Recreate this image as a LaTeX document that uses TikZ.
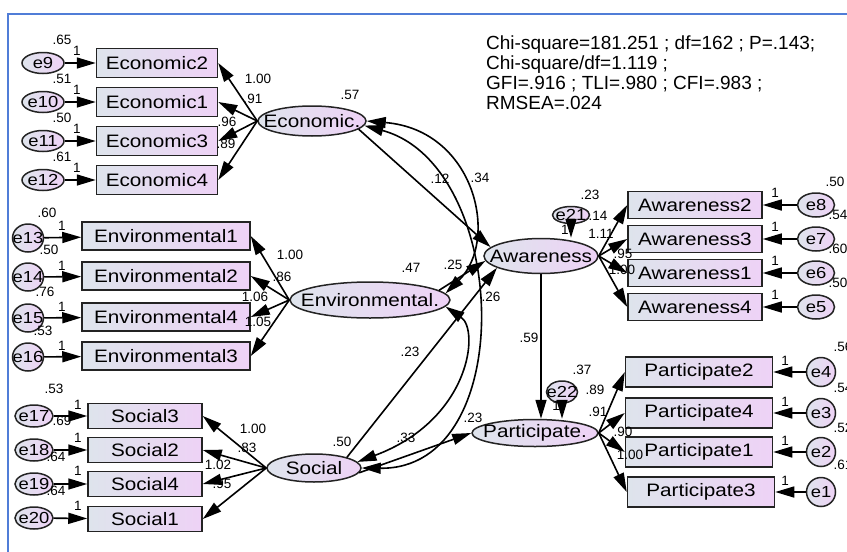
\documentclass[tikz,border=0pt]{standalone}
\usepackage{fontspec}
\setmainfont{Liberation Sans}
\newfontfamily\amosfont{Liberation Sans}[FakeStretch=1.15]
\usetikzlibrary{arrows.meta, shapes.geometric}
\definecolor{frameBlue}{RGB}{80,125,215}
\definecolor{fillLeft}{RGB}{222,228,236}
\definecolor{fillRight}{RGB}{238,210,246}
\definecolor{edgeGray}{RGB}{35,35,35}
\newcommand{\fitlbl}[1]{\makebox[0pt]{#1}}

\begin{document}
\begin{tikzpicture}[x=1pt, y=-1pt,
    obs/.style={draw=edgeGray, line width=1.5pt, left color=fillLeft, right color=fillRight, inner sep=0pt, font=\amosfont\fontsize{18}{20}\selectfont},
    latent/.style={ellipse, draw=edgeGray, line width=1.5pt, left color=fillLeft, right color=fillRight, inner sep=0pt, font=\amosfont\fontsize{18}{20}\selectfont},
    err/.style={latent, font=\amosfont\fontsize{16}{18}\selectfont},
    val/.style={inner sep=0pt, font=\fontsize{13.5}{14}\selectfont},
    reg/.style={line width=1.6pt, -{Triangle[length=19pt, width=11pt]}},
    cov/.style={line width=1.6pt, {Triangle[length=19pt, width=11pt]}-{Triangle[length=19pt, width=11pt]}}]
  \useasboundingbox (0,0) rectangle (847,552);
  % Frame
  \draw[frameBlue, line width=2pt] (8,552) -- (8,14) -- (847,14);

  % Fit statistics
  \node[anchor=north west, align=left, inner sep=0pt, font=\fontsize{19}{20}\selectfont] (fit) at (486,36) {
    Chi-square=181.251 ; df=162 ; P=.143;\\
    Chi-square/df=1.119 ;\\
    GFI=.916 ; TLI=.980 ; CFI=.983 ;\\
    RMSEA=.024};

  % Economic block
  \node[obs, minimum width=121pt, minimum height=29pt] (eco2) at (157,63) {Economic2};
  \node[obs, minimum width=121pt, minimum height=29pt] (eco1) at (157,102) {Economic1};
  \node[obs, minimum width=121pt, minimum height=29pt] (eco3) at (157,141) {Economic3};
  \node[obs, minimum width=121pt, minimum height=29pt] (eco4) at (157,180) {Economic4};
  \node[err, minimum width=42pt, minimum height=21pt] (e9) at (43,63) {\fitlbl{e9}};
  \node[err, minimum width=42pt, minimum height=21pt] (e10) at (43,102) {\fitlbl{e10}};
  \node[err, minimum width=42pt, minimum height=21pt] (e11) at (43,141) {\fitlbl{e11}};
  \node[err, minimum width=42pt, minimum height=21pt] (e12) at (43,180) {\fitlbl{e12}};
  \node[latent, minimum width=108pt, minimum height=30pt] (economic) at (312,121) {\fitlbl{Economic.}};

  % Environmental block
  \node[obs, minimum width=168pt, minimum height=28pt] (env1) at (166,236) {Environmental1};
  \node[obs, minimum width=168pt, minimum height=28pt] (env2) at (166,276) {Environmental2};
  \node[obs, minimum width=168pt, minimum height=28pt] (env4) at (166,317) {Environmental4};
  \node[obs, minimum width=168pt, minimum height=28pt] (env3) at (166,356) {Environmental3};
  \node[err, minimum width=31pt, minimum height=28pt] (e13) at (28,238) {\fitlbl{e13}};
  \node[err, minimum width=31pt, minimum height=28pt] (e14) at (28,277) {\fitlbl{e14}};
  \node[err, minimum width=31pt, minimum height=28pt] (e15) at (28,318) {\fitlbl{e15}};
  \node[err, minimum width=31pt, minimum height=28pt] (e16) at (28,357) {\fitlbl{e16}};
  \node[latent, minimum width=160pt, minimum height=36pt] (environmental) at (370,300) {\fitlbl{Environmental.}};

  % Social block
  \node[obs, minimum width=114pt, minimum height=25pt] (soc3) at (145,416) {Social3};
  \node[obs, minimum width=114pt, minimum height=25pt] (soc2) at (145,450) {Social2};
  \node[obs, minimum width=114pt, minimum height=25pt] (soc4) at (145,484) {Social4};
  \node[obs, minimum width=114pt, minimum height=25pt] (soc1) at (145,519) {Social1};
  \node[err, minimum width=38pt, minimum height=22pt] (e17) at (34,416) {\fitlbl{e17}};
  \node[err, minimum width=38pt, minimum height=22pt] (e18) at (34,450) {\fitlbl{e18}};
  \node[err, minimum width=38pt, minimum height=22pt] (e19) at (34,484) {\fitlbl{e19}};
  \node[err, minimum width=38pt, minimum height=22pt] (e20) at (34,518) {\fitlbl{e20}};
  \node[latent, minimum width=94pt, minimum height=28pt] (social) at (314,468) {\fitlbl{Social}};

  % Awareness block
  \node[obs, minimum width=134pt, minimum height=27pt] (aw2) at (695,205) {Awareness2};
  \node[obs, minimum width=134pt, minimum height=27pt] (aw3) at (695,239) {Awareness3};
  \node[obs, minimum width=134pt, minimum height=27pt] (aw1) at (695,273) {Awareness1};
  \node[obs, minimum width=134pt, minimum height=27pt] (aw4) at (695,307) {Awareness4};
  \node[err, minimum width=37pt, minimum height=24pt] (e8) at (816,205) {\fitlbl{e8}};
  \node[err, minimum width=37pt, minimum height=24pt] (e7) at (816,239) {\fitlbl{e7}};
  \node[err, minimum width=37pt, minimum height=24pt] (e6) at (816,273) {\fitlbl{e6}};
  \node[err, minimum width=37pt, minimum height=24pt] (e5) at (816,307) {\fitlbl{e5}};
  \node[latent, minimum width=114pt, minimum height=35pt] (awareness) at (541,256) {\fitlbl{Awareness}};
  \node[err, minimum width=37pt, minimum height=17pt] (e21) at (571,215) {\fitlbl{e21}};

  % Participate block
  \node[obs, minimum width=147pt, minimum height=30pt] (part2) at (699,372) {Participate2};
  \node[obs, minimum width=147pt, minimum height=30pt] (part4) at (699,413) {Participate4};
  \node[obs, minimum width=147pt, minimum height=30pt] (part1) at (699,452) {Participate1};
  \node[obs, minimum width=147pt, minimum height=30pt] (part3) at (701,492) {Participate3};
  \node[err, minimum width=29pt, minimum height=29pt] (e4) at (821,372) {\fitlbl{e4}};
  \node[err, minimum width=29pt, minimum height=29pt] (e3) at (821,413) {\fitlbl{e3}};
  \node[err, minimum width=29pt, minimum height=29pt] (e2) at (821,452) {\fitlbl{e2}};
  \node[err, minimum width=29pt, minimum height=29pt] (e1) at (821,492) {\fitlbl{e1}};
  \node[latent, minimum width=126pt, minimum height=27pt] (participate) at (535,433) {\fitlbl{Participate.}};
  \node[err, minimum width=31pt, minimum height=22pt] (e22) at (562,392) {\fitlbl{e22}};

  % Error terms
  \draw[reg] (e9) -- (eco2);
  \draw[reg] (e10) -- (eco1);
  \draw[reg] (e11) -- (eco3);
  \draw[reg] (e12) -- (eco4);
  \draw[reg] (e13) -- (env1);
  \draw[reg] (e14) -- (env2);
  \draw[reg] (e15) -- (env4);
  \draw[reg] (e16) -- (env3);
  \draw[reg] (e17) -- (soc3);
  \draw[reg] (e18) -- (soc2);
  \draw[reg] (e19) -- (soc4);
  \draw[reg] (e20) -- (soc1);
  \draw[reg] (e8) -- (aw2);
  \draw[reg] (e7) -- (aw3);
  \draw[reg] (e6) -- (aw1);
  \draw[reg] (e5) -- (aw4);
  \draw[reg] (e4) -- (part2);
  \draw[reg] (e3) -- (part4);
  \draw[reg] (e2) -- (part1);
  \draw[reg] (e1) -- (part3);
  \draw[reg] (e21.south) -- (e21.south |- awareness.north);
  \draw[reg] (e22.south) -- (e22.south |- participate.north);

  % Loadings
  \draw[reg] (economic.west) -- (eco2.east);
  \draw[reg] (economic.west) -- (eco1.east);
  \draw[reg] (economic.west) -- (eco3.east);
  \draw[reg] (economic.west) -- (eco4.east);
  \draw[reg] (environmental.west) -- (env1.east);
  \draw[reg] (environmental.west) -- (env2.east);
  \draw[reg] (environmental.west) -- (env4.east);
  \draw[reg] (environmental.west) -- (env3.east);
  \draw[reg] (social.west) -- (soc3.east);
  \draw[reg] (social.west) -- (soc2.east);
  \draw[reg] (social.west) -- (soc4.east);
  \draw[reg] (social.west) -- (soc1.east);
  \draw[reg] (awareness.east) -- (aw2.west);
  \draw[reg] (awareness.east) -- (aw3.west);
  \draw[reg] (awareness.east) -- (aw1.west);
  \draw[reg] (awareness.east) -- (aw4.west);
  \draw[reg] (participate.east) -- (part2.west);
  \draw[reg] (participate.east) -- (part4.west);
  \draw[reg] (participate.east) -- (part1.west);
  \draw[reg] (participate.east) -- (part3.west);

  % Structural paths
  \draw[reg] (economic.-10) -- (awareness.170);
  \draw[reg] (environmental.8) -- (awareness.185);
  \draw[reg] (social.18) -- (awareness.195);
  \draw[reg] (social.-6) -- (participate.west);
  \draw[reg] (awareness.south) -- (awareness.south |- participate.north);

  % Covariances
  \draw[cov] (economic.east) .. controls (475,130) and (500,240) .. (environmental.5);
  \draw[cov] (economic.-5) .. controls (510,165) and (520,470) .. (social.0);
  \draw[cov] (environmental.-5) .. controls (480,330) and (470,420) .. (social.8);

  % Estimates
  \node[val] (ve9) at (62,40) {.65};
  \node[val] (we9) at (77,51) {1};
  \node[val] (ve10) at (62,79) {.51};
  \node[val] (we10) at (77,90) {1};
  \node[val] (ve11) at (62,118) {.50};
  \node[val] (we11) at (77,129) {1};
  \node[val] (ve12) at (62,157) {.61};
  \node[val] (we12) at (77,168) {1};
  \node[val] (leco2) at (258,79) {1.00};
  \node[val] (leco1) at (253,99) {.91};
  \node[val] (leco3) at (227,122) {.96};
  \node[val] (leco4) at (226,144) {.89};
  \node[val] (veco) at (350,95) {.57};

  \node[val] (ve13) at (47,213) {.60};
  \node[val] (we13) at (62,226) {1};
  \node[val] (ve14) at (49,250) {.50};
  \node[val] (we14) at (62,266) {1};
  \node[val] (ve15) at (45,292) {.76};
  \node[val] (we15) at (62,307) {1};
  \node[val] (ve16) at (43,331) {.53};
  \node[val] (we16) at (62,346) {1};
  \node[val] (lenv1) at (290,255) {1.00};
  \node[val] (lenv2) at (282,277) {.86};
  \node[val] (lenv4) at (255,297) {1.06};
  \node[val] (lenv3) at (258,322) {1.05};
  \node[val] (venv) at (411,268) {.47};

  \node[val] (ve17) at (54,389) {.53};
  \node[val] (we17) at (78,405) {1};
  \node[val] (ve18) at (62,421) {.69};
  \node[val] (we18) at (78,438) {1};
  \node[val] (ve19) at (56,457) {.64};
  \node[val] (we19) at (78,471) {1};
  \node[val] (ve20) at (56,491) {.64};
  \node[val] (we20) at (78,506) {1};
  \node[val] (lsoc3) at (253,429) {1.00};
  \node[val] (lsoc2) at (247,448) {.83};
  \node[val] (lsoc4) at (218,465) {1.02};
  \node[val] (lsoc1) at (222,484) {.95};
  \node[val] (vsoc) at (342,442) {.50};

  \node[val] (ve21) at (590,195) {.23};
  \node[val] (we21) at (565,230) {1};
  \node[val] (law2) at (598,216) {.14};
  \node[val] (law3) at (601,234) {1.11};
  \node[val] (law1) at (623,254) {.95};
  \node[val] (law4) at (622,270) {1.00};
  \node[val] (ve8) at (835,182) {.50};
  \node[val] (we8) at (775,193) {1};
  \node[val] (ve7) at (838,215) {.54};
  \node[val] (we7) at (775,227) {1};
  \node[val] (ve6) at (838,249) {.60};
  \node[val] (we6) at (775,261) {1};
  \node[val] (ve5) at (838,283) {.50};
  \node[val] (we5) at (775,295) {1};

  \node[val] (ve22) at (582,370) {.37};
  \node[val] (we22) at (556,406) {1};
  \node[val] (lpart2) at (595,390) {.89};
  \node[val] (lpart4) at (598,412) {.91};
  \node[val] (lpart1) at (623,432) {.90};
  \node[val] (lpart3) at (630,455) {1.00};
  \node[val] (ve4) at (843,347) {.56};
  \node[val] (we4) at (785,361) {1};
  \node[val] (ve3) at (843,388) {.54};
  \node[val] (we3) at (785,402) {1};
  \node[val] (ve2) at (843,428) {.52};
  \node[val] (we2) at (785,441) {1};
  \node[val] (ve1) at (843,465) {.61};
  \node[val] (we1) at (785,481) {1};

  \node[val] (b12) at (440,179) {.12};
  \node[val] (c34) at (480,178) {.34};
  \node[val] (b25) at (453,265) {.25};
  \node[val] (c26) at (491,297) {.26};
  \node[val] (b23a) at (410,352) {.23};
  \node[val] (b59) at (529,338) {.59};
  \node[val] (b23b) at (473,418) {.23};
  \node[val] (c33) at (406,438) {.33};
\end{tikzpicture}
\end{document}
